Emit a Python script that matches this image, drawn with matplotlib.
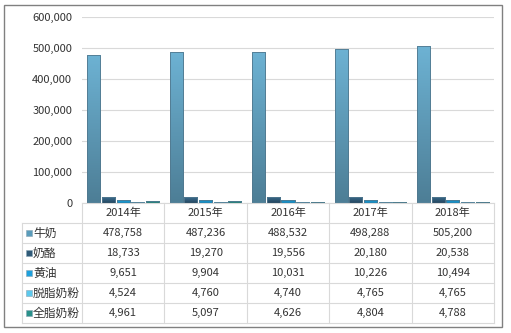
import numpy as np
import matplotlib.pyplot as plt
from matplotlib.colors import LinearSegmentedColormap
from matplotlib.patches import Rectangle

years = ["2014年", "2015年", "2016年", "2017年", "2018年"]
series_names = ["牛奶", "奶酪", "黄油", "脱脂奶粉", "全脂奶粉"]
milk = [478758, 487236, 488532, 498288, 505200]
cheese = [18733, 19270, 19556, 20180, 20538]
butter = [9651, 9904, 10031, 10226, 10494]
skim_powder = [4524, 4760, 4740, 4765, 4765]
whole_powder = [4961, 5097, 4626, 4804, 4788]
series = [milk, cheese, butter, skim_powder, whole_powder]

# (top, bottom) gradient colours per series
grad = [("#6db2d3", "#4d7e96"),
        ("#3c6d8f", "#244760"),
        ("#25a8e0", "#1480b2"),
        ("#7fcfe8", "#5ab0cc"),
        ("#2f9a92", "#1f756f")]
key_colors = ["#5a9cbb", "#2f5a78", "#1ea0dc", "#5cc8ec", "#2a918a"]

W, H = 511, 333
plt.rcParams['font.family'] = ['Noto Sans CJK SC', 'DejaVu Sans']
fig = plt.figure(figsize=(W / 100, H / 100), dpi=100)
fig.patch.set_facecolor("white")

left, right, top, base = 82, 494, 17, 203
ax = fig.add_axes([left / W, 1 - base / H, (right - left) / W, (base - top) / H])

x = np.arange(len(years))
width = 0.158
step = 0.178
for k, vals in enumerate(series):
    off = (k - 2) * step
    bars = ax.bar(x + off, vals, width, color=key_colors[k],
                  edgecolor="#4f6f82", linewidth=0.5, zorder=3)
    cmap = LinearSegmentedColormap.from_list("g%d" % k, [grad[k][1], grad[k][0]])
    for b in bars:
        bx, bw, bh = b.get_x(), b.get_width(), b.get_height()
        img = ax.imshow(np.linspace(0, 1, 64).reshape(-1, 1), cmap=cmap,
                        extent=[bx, bx + bw, 0, bh], origin="lower",
                        aspect="auto", zorder=3.5)
        img.set_clip_path(b)
        b2 = Rectangle((bx, 0), bw, bh, fill=False, edgecolor="#51788e",
                       linewidth=0.6, zorder=4)
        ax.add_patch(b2)

ax.set_xlim(-0.5, len(years) - 0.5)
ax.set_ylim(0, 600000)
ax.set_yticks(np.arange(0, 600001, 100000))
ax.set_yticklabels([f"{v:,}" for v in range(0, 600001, 100000)])
ax.set_xticks([])
ax.grid(axis='y', color="#d9d9d9", linewidth=0.8)
ax.set_axisbelow(True)
for s in ax.spines.values():
    s.set_visible(False)
ax.tick_params(axis='y', length=0, pad=7, labelsize=8, labelcolor="#333333")

# data table drawn in pixel coordinates
ov = fig.add_axes([0, 0, 1, 1], zorder=5)
ov.set_xlim(0, W)
ov.set_ylim(H, 0)
ov.axis("off")

line_c = "#d9d9d9"
row_h = 20
col_w = (right - left) / len(years)
key_left = 22
n_rows = len(series_names)
tbl_bottom = base + row_h * (n_rows + 1)

ov.plot([left, right], [base, base], color=line_c, lw=0.8)
for i in range(len(years) + 1):
    xx = left + i * col_w
    ov.plot([xx, xx], [base, tbl_bottom], color=line_c, lw=0.8)
for r in range(1, n_rows + 2):
    yy = base + r * row_h
    ov.plot([key_left, right], [yy, yy], color=line_c, lw=0.8)
ov.plot([key_left, key_left], [base + row_h, tbl_bottom], color=line_c, lw=0.8)

txt_c = "#333333"
for i, yr in enumerate(years):
    ov.text(left + (i + 0.5) * col_w, base + row_h / 2, yr, ha="center",
            va="center", fontsize=8, color=txt_c)
for r, (name, vals) in enumerate(zip(series_names, series)):
    cy = base + (r + 1.5) * row_h
    ov.add_patch(Rectangle((25.5, cy - 3), 6, 6, facecolor=key_colors[r],
                           edgecolor="#8aa6b5", lw=0.4))
    ov.text(33, cy, name, ha="left", va="center", fontsize=8.5, color=txt_c)
    for i, v in enumerate(vals):
        ov.text(left + (i + 0.5) * col_w, cy, f"{v:,}", ha="center",
                va="center", fontsize=8, color=txt_c)

ov.add_patch(Rectangle((4, 5), 498, 322, fill=False, edgecolor="#808080", lw=1))

fig.savefig("out.png", dpi=100)
